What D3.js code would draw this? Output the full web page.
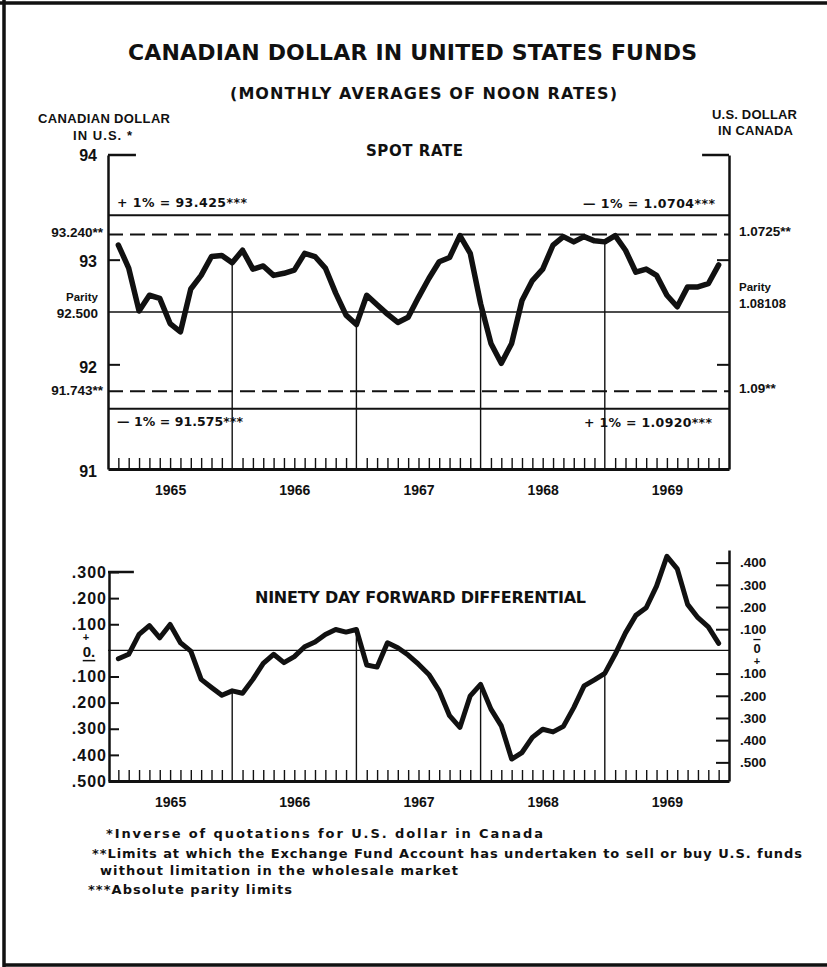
<html>
<head>
<script src="https://d3js.org/d3.v7.min.js"></script>
<style>
body { margin: 0; background: #fff; overflow: hidden; }
svg { display: block; }
text { fill: #111; }
.lab { font-family: "Liberation Sans", Arial, sans-serif; font-weight: bold; }
.fut { font-family: "DejaVu Sans", sans-serif; font-weight: bold; }
</style>
</head>
<body>
<svg width="827" height="967"></svg>
<script>
// monthly values, Jan 1965 .. Nov 1969
var years = ["1965", "1966", "1967", "1968", "1969"];
var spotRate = [93.14, 92.92, 92.51, 92.66, 92.63, 92.39, 92.31, 92.72, 92.85, 93.03, 93.04, 92.97,
                93.09, 92.91, 92.94, 92.85, 92.87, 92.90, 93.06, 93.03, 92.92, 92.68, 92.47, 92.38,
                92.66, 92.57, 92.48, 92.40, 92.45, 92.64, 92.82, 92.98, 93.02, 93.23, 93.06, 92.58,
                92.20, 92.01, 92.20, 92.61, 92.80, 92.91, 93.14, 93.22, 93.17, 93.22, 93.18, 93.17,
                93.23, 93.09, 92.88, 92.91, 92.85, 92.66, 92.55, 92.74, 92.74, 92.77, 92.95];
var fwdDiff = [-0.032, -0.015, 0.061, 0.095, 0.048, 0.099, 0.029, -0.003, -0.111, -0.142, -0.172, -0.155,
               -0.164, -0.111, -0.050, -0.015, -0.047, -0.024, 0.014, 0.032, 0.061, 0.080, 0.070, 0.080,
               -0.056, -0.064, 0.029, 0.010, -0.018, -0.053, -0.092, -0.155, -0.250, -0.295, -0.174, -0.130,
               -0.225, -0.289, -0.416, -0.391, -0.333, -0.302, -0.312, -0.291, -0.219, -0.136, -0.113, -0.088,
               -0.015, 0.067, 0.134, 0.163, 0.246, 0.360, 0.312, 0.176, 0.125, 0.090, 0.027];
var spotTicks = [93, 92];
var limitSolid = [93.425, 91.575];
var limitDashed = [93.240, 91.743];
var parity = 92.5;
var fwdLeftTicks = [0.3, 0.2, 0.1, -0.1, -0.2, -0.3, -0.4, -0.5];
var fwdRightTicks = [0.4, 0.3, 0.2, 0.1, -0.1, -0.2, -0.3, -0.4, -0.5];

var svg = d3.select("svg");
svg.append("rect").attr("width", 827).attr("height", 967).attr("fill", "#fff");

// page frame (no right edge in the scan)
svg.append("path").attr("d", "M0,3H827M4,0V967M4,965H827")
    .attr("stroke", "#111").attr("stroke-width", 3.5).attr("fill", "none");

var x = d3.scaleLinear().domain([0, 60]).range([108, 729]);
var yT = d3.scaleLinear().domain([91, 94]).range([469, 155]);
var yB = d3.scaleLinear().domain([-0.5, 0.3]).range([781, 572]);
var yR = d3.scaleLinear().domain([-0.584, 0.457]).range([781, 550]);

function txt(s, px, py, size, cls, anchor, len) {
    var t = svg.append("text").attr("class", cls).attr("x", px).attr("y", py)
        .attr("font-size", size).attr("text-anchor", anchor || "start").text(s);
    if (len) t.attr("textLength", len);
    return t;
}

// titles
txt("CANADIAN DOLLAR IN UNITED STATES FUNDS", 128, 60, 22, "fut", "start", 569);
txt("(MONTHLY AVERAGES OF NOON RATES)", 230, 99, 16, "fut", "start", 387);
txt("CANADIAN DOLLAR", 38, 123, 13, "lab", "start", 132);
txt("IN U.S. *", 73, 140, 13, "lab", "start", 59);
txt("U.S. DOLLAR", 712, 119, 13, "lab", "start", 85);
txt("IN CANADA", 718, 135, 13, "lab", "start", 75);
txt("SPOT RATE", 366, 156, 15, "fut", "start", 97);
txt("NINETY DAY FORWARD DIFFERENTIAL", 255, 603, 16, "fut", "start", 331);

var months = d3.range(1, 60);
var yearEnds = [12, 24, 36, 48];

function monthAxis(yy) {
    svg.append("g").attr("transform", "translate(0," + yy + ")")
        .call(d3.axisBottom(x).tickValues(months.filter(function(m) { return m % 12; }))
            .tickSize(-11).tickSizeOuter(0).tickFormat(""))
        .call(function(g) {
            g.select(".domain").attr("stroke", "#111").attr("stroke-width", 3);
            g.selectAll(".tick line").attr("stroke", "#111").attr("stroke-width", 1.4);
        });
    var g = svg.append("g").attr("transform", "translate(0," + (yy + 16) + ")")
        .call(d3.axisBottom(x).tickValues([6, 18, 30, 42, 54])
            .tickFormat(function(d, i) { return years[i]; }).tickSize(0).tickPadding(0));
    g.select(".domain").remove();
    g.attr("font-family", null).attr("font-size", null);
    g.selectAll("text").attr("class", "lab").attr("font-size", 14).attr("fill", "#111");
}

// ---------- SPOT RATE ----------
svg.append("g").attr("transform", "translate(108,0)")
    .call(d3.axisLeft(yT).tickValues(spotTicks).tickSize(-12).tickSizeOuter(0).tickFormat(""))
    .call(function(g) {
        g.select(".domain").attr("stroke", "#111").attr("stroke-width", 2.5);
        g.selectAll(".tick line").attr("stroke", "#111").attr("stroke-width", 2);
    });
svg.append("g").attr("transform", "translate(729,0)")
    .call(d3.axisRight(yT).tickValues(spotTicks).tickSize(-12).tickSizeOuter(0).tickFormat(""))
    .call(function(g) {
        g.select(".domain").attr("stroke", "#111").attr("stroke-width", 2.5);
        g.selectAll(".tick line").attr("stroke", "#111").attr("stroke-width", 2);
    });
// top brackets
svg.append("line").attr("x1", x(0)).attr("x2", x(2.7)).attr("y1", yT(94)).attr("y2", yT(94))
    .attr("stroke", "#111").attr("stroke-width", 2.5);
svg.append("line").attr("x1", x(57.4)).attr("x2", x(60)).attr("y1", yT(94)).attr("y2", yT(94))
    .attr("stroke", "#111").attr("stroke-width", 2.5);

svg.selectAll(".lim").data(limitSolid).enter().append("line")
    .attr("x1", x(0)).attr("x2", x(60)).attr("y1", yT).attr("y2", yT)
    .attr("stroke", "#111").attr("stroke-width", 2);
svg.selectAll(".dash").data(limitDashed).enter().append("line")
    .attr("x1", x(0)).attr("x2", x(60)).attr("y1", yT).attr("y2", yT)
    .attr("stroke", "#111").attr("stroke-width", 2).attr("stroke-dasharray", "15,7");
svg.append("line").attr("x1", x(0)).attr("x2", x(60)).attr("y1", yT(parity)).attr("y2", yT(parity))
    .attr("stroke", "#111").attr("stroke-width", 1.6);

svg.selectAll(".yrT").data(yearEnds).enter().append("line")
    .attr("x1", x).attr("x2", x)
    .attr("y1", function(m) { return yT(spotRate[m - 1]); }).attr("y2", yT(91))
    .attr("stroke", "#111").attr("stroke-width", 1.4);

monthAxis(yT(91));

svg.append("path").datum(spotRate)
    .attr("d", d3.line().x(function(d, i) { return x(i + 1); }).y(function(d) { return yT(d); }))
    .attr("fill", "none").attr("stroke", "#111").attr("stroke-width", 5.5)
    .attr("stroke-linejoin", "round").attr("stroke-linecap", "round");

// left labels
txt("94", 97, yT(94), 16, "lab", "end").attr("dominant-baseline", "central");
txt("93.240**", 103, yT(93.24) - 2, 13.5, "lab", "end").attr("dominant-baseline", "central");
txt("93", 97, yT(93) + 2, 16, "lab", "end").attr("dominant-baseline", "central");
txt("Parity", 98, yT(92.5) - 15, 11.5, "lab", "end").attr("dominant-baseline", "central");
txt("92.500", 98, yT(92.5) + 1, 13.5, "lab", "end").attr("dominant-baseline", "central");
txt("92", 97, yT(92) + 3, 16, "lab", "end").attr("dominant-baseline", "central");
txt("91.743**", 103, yT(91.743) - 1, 13.5, "lab", "end").attr("dominant-baseline", "central");
txt("91", 97, yT(91) + 2, 16, "lab", "end").attr("dominant-baseline", "central");
// right labels
txt("1.0725**", 739, yT(93.24) - 3, 13.5, "lab", "start").attr("dominant-baseline", "central");
txt("Parity", 739, yT(92.5) - 25, 11.5, "lab", "start").attr("dominant-baseline", "central");
txt("1.08108", 739, yT(92.5) - 9, 13, "lab", "start").attr("dominant-baseline", "central");
txt("1.09**", 739, yT(91.743) - 3, 13.5, "lab", "start").attr("dominant-baseline", "central");
// limit notes
txt("+ 1% = 93.425***", 117, yT(93.425) - 8, 12.5, "fut", "start", 130);
txt("\u2014 1% = 1.0704***", 583, yT(93.425) - 7, 12.5, "fut", "start", 132);
txt("\u2014 1% = 91.575***", 117, yT(91.575) + 17, 12.5, "fut", "start", 126);
txt("+ 1% = 1.0920***", 584, yT(91.575) + 18, 12.5, "fut", "start", 128);

// ---------- FORWARD DIFFERENTIAL ----------
var fmt = function(d) { return Math.abs(d).toFixed(3).replace(/^0/, ""); };
svg.append("g").attr("transform", "translate(109,0)")
    .call(d3.axisLeft(yB).tickValues(fwdLeftTicks).tickSize(-10).tickSizeOuter(0).tickPadding(2).tickFormat(fmt))
    .call(function(g) {
        g.attr("font-family", null).attr("font-size", null);
        g.select(".domain").attr("stroke", "#111").attr("stroke-width", 2.5);
        g.selectAll(".tick line").attr("stroke", "#111").attr("stroke-width", 2);
        g.selectAll("text").attr("class", "lab").attr("font-size", 16).attr("fill", "#111")
            .attr("letter-spacing", 1);
    });
svg.append("line").attr("x1", x(0)).attr("x2", x(2.5)).attr("y1", yB(0.3)).attr("y2", yB(0.3))
    .attr("stroke", "#111").attr("stroke-width", 2.5);
svg.append("g").attr("transform", "translate(729,0)")
    .call(d3.axisRight(yR).tickValues(fwdRightTicks).tickSize(-13).tickSizeOuter(0).tickPadding(11).tickFormat(fmt))
    .call(function(g) {
        g.attr("font-family", null).attr("font-size", null);
        g.select(".domain").attr("stroke", "#111").attr("stroke-width", 2.5);
        g.selectAll(".tick line").attr("stroke", "#111").attr("stroke-width", 2);
        g.selectAll("text").attr("class", "lab").attr("font-size", 13.5).attr("fill", "#111");
    });
// zero markers: + above / − below on the left, − above / + below on the right
txt("+", 86, yB(0) - 13, 11, "lab", "middle").attr("dominant-baseline", "central");
txt("0.", 89, yB(0) + 1, 15, "lab", "middle").attr("dominant-baseline", "central")
    .attr("text-decoration", "underline");
txt("0", 757, yR(0) - 3, 13, "lab", "middle").attr("dominant-baseline", "central")
    .attr("text-decoration", "overline");
txt("+", 757, yR(0) + 9.5, 11, "lab", "middle").attr("dominant-baseline", "central");

svg.append("line").attr("x1", x(0)).attr("x2", x(60)).attr("y1", yB(0)).attr("y2", yB(0))
    .attr("stroke", "#111").attr("stroke-width", 1.4);
svg.selectAll(".yrB").data(yearEnds).enter().append("line")
    .attr("x1", x).attr("x2", x)
    .attr("y1", function(m) { return yB(fwdDiff[m - 1]); }).attr("y2", yB(-0.5))
    .attr("stroke", "#111").attr("stroke-width", 1.4);

monthAxis(yB(-0.5));

svg.append("path").datum(fwdDiff)
    .attr("d", d3.line().x(function(d, i) { return x(i + 1); }).y(function(d) { return yB(d); }))
    .attr("fill", "none").attr("stroke", "#111").attr("stroke-width", 5)
    .attr("stroke-linejoin", "round").attr("stroke-linecap", "round");

// footnotes
txt("*Inverse of quotations for U.S. dollar  in Canada", 106, 838, 13, "fut", "start", 437);
txt("**Limits at which the Exchange Fund Account has undertaken to sell or buy U.S. funds", 92, 858, 13, "fut", "start", 710);
txt("without limitation in the wholesale market", 100, 875, 13, "fut", "start", 358);
txt("***Absolute parity limits", 88, 894, 13, "fut", "start", 204);
</script>
</body>
</html>
